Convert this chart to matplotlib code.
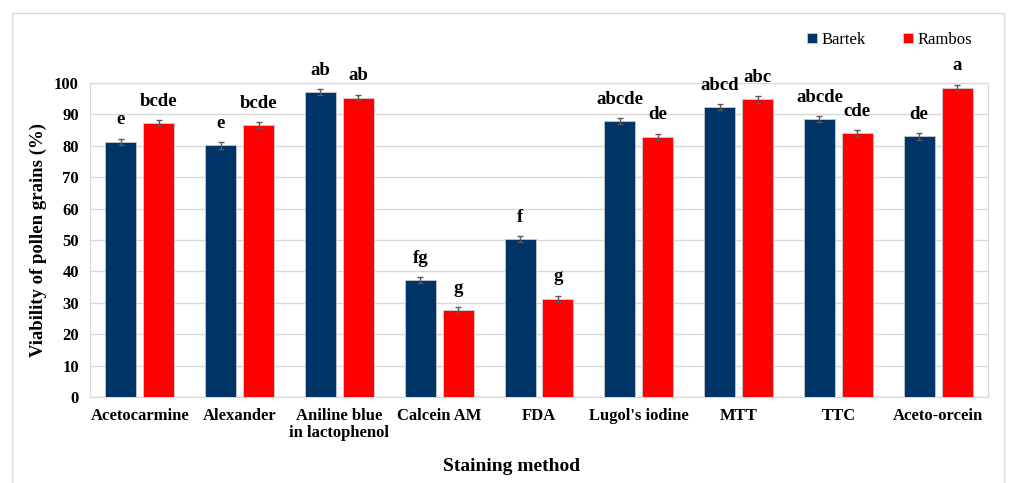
import numpy as np
import matplotlib
matplotlib.use("Agg")
import matplotlib.pyplot as plt
from matplotlib.patches import Rectangle

plt.rcParams["font.family"] = ["Liberation Serif", "DejaVu Serif"]

methods = ["Acetocarmine", "Alexander", "Aniline blue\nin lactophenol", "Calcein AM",
           "FDA", "Lugol's iodine", "MTT", "TTC", "Aceto-orcein"]
bartek = [81.2, 80.1, 97.1, 37.3, 50.3, 87.9, 92.3, 88.5, 83.0]
rambos = [87.3, 86.6, 95.3, 27.7, 31.3, 82.9, 94.8, 84.1, 98.5]
bartek_err = [1.1, 1.0, 1.0, 1.0, 1.0, 0.9, 1.0, 1.0, 1.0]
rambos_err = [1.0, 1.0, 1.0, 1.0, 1.0, 1.0, 1.1, 1.0, 1.0]
bartek_letters = ["e", "e", "ab", "fg", "f", "abcde", "abcd", "abcde", "de"]
rambos_letters = ["bcde", "bcde", "ab", "g", "g", "de", "abc", "cde", "a"]

fig = plt.figure(figsize=(10.09, 4.83), dpi=100)
# light frame around the whole chart
fig.patches.append(Rectangle((12 / 1009, -0.01), 992 / 1009, 1 - 13 / 483 + 0.01,
                             transform=fig.transFigure, fill=False,
                             edgecolor="#d9d9d9", linewidth=1))
ax = fig.add_axes([90 / 1009, 1 - 397 / 483, 898 / 1009, 314 / 483])

x = np.arange(len(methods))
w = 0.31
gap = 0.07
pos_b = x - (w + gap) / 2
pos_r = x + (w + gap) / 2
err_kw = dict(ecolor="#595959", elinewidth=1, capsize=2.5, capthick=1)
ax.bar(pos_b, bartek, w, color="#003366", edgecolor="#c8c8c8", linewidth=0.6,
       yerr=bartek_err, error_kw=err_kw, label="Bartek", zorder=3)
ax.bar(pos_r, rambos, w, color="#ff0000", edgecolor="#d0d0d0", linewidth=0.6,
       yerr=rambos_err, error_kw=err_kw, label="Rambos", zorder=3)

# significance letters above each bar
for px, v, e, t in zip(pos_b, bartek, bartek_err, bartek_letters):
    ax.text(px, v + e + 4.5, t, ha="center", va="baseline", fontsize=13.5,
            fontweight="bold", clip_on=False)
for px, v, e, t in zip(pos_r, rambos, rambos_err, rambos_letters):
    ax.text(px, v + e + 4.5, t, ha="center", va="baseline", fontsize=13.5,
            fontweight="bold", clip_on=False)

ax.set_xlim(-0.5, len(methods) - 0.5)
ax.set_ylim(0, 100)
ax.set_yticks(np.arange(0, 101, 10))
ax.set_xticks(x)
ax.set_xticklabels(methods, fontsize=12, fontweight="bold", linespacing=1.1)
for lab in ax.get_yticklabels():
    lab.set_fontsize(12)
    lab.set_fontweight("bold")
ax.tick_params(length=0, pad=8)
ax.yaxis.grid(True, color="#d9d9d9", linewidth=1, zorder=0)
ax.set_axisbelow(True)
for s in ax.spines.values():
    s.set_color("#d9d9d9")

ax.set_ylabel("Viability of pollen grains (%)", fontsize=13.5, fontweight="bold")
ax.yaxis.set_label_coords(-0.048, 0.5)
ax.set_xlabel("Staining method", fontsize=14, fontweight="bold")
ax.xaxis.set_label_coords(0.47, -0.195)

ax.legend(loc="lower right", bbox_to_anchor=(0.99, 1.09), ncol=2, frameon=False,
          fontsize=12, handlelength=0.6, handleheight=0.6, handletextpad=0.3,
          columnspacing=2.2, borderaxespad=0)

fig.savefig("out.png", dpi=100, facecolor="white")
